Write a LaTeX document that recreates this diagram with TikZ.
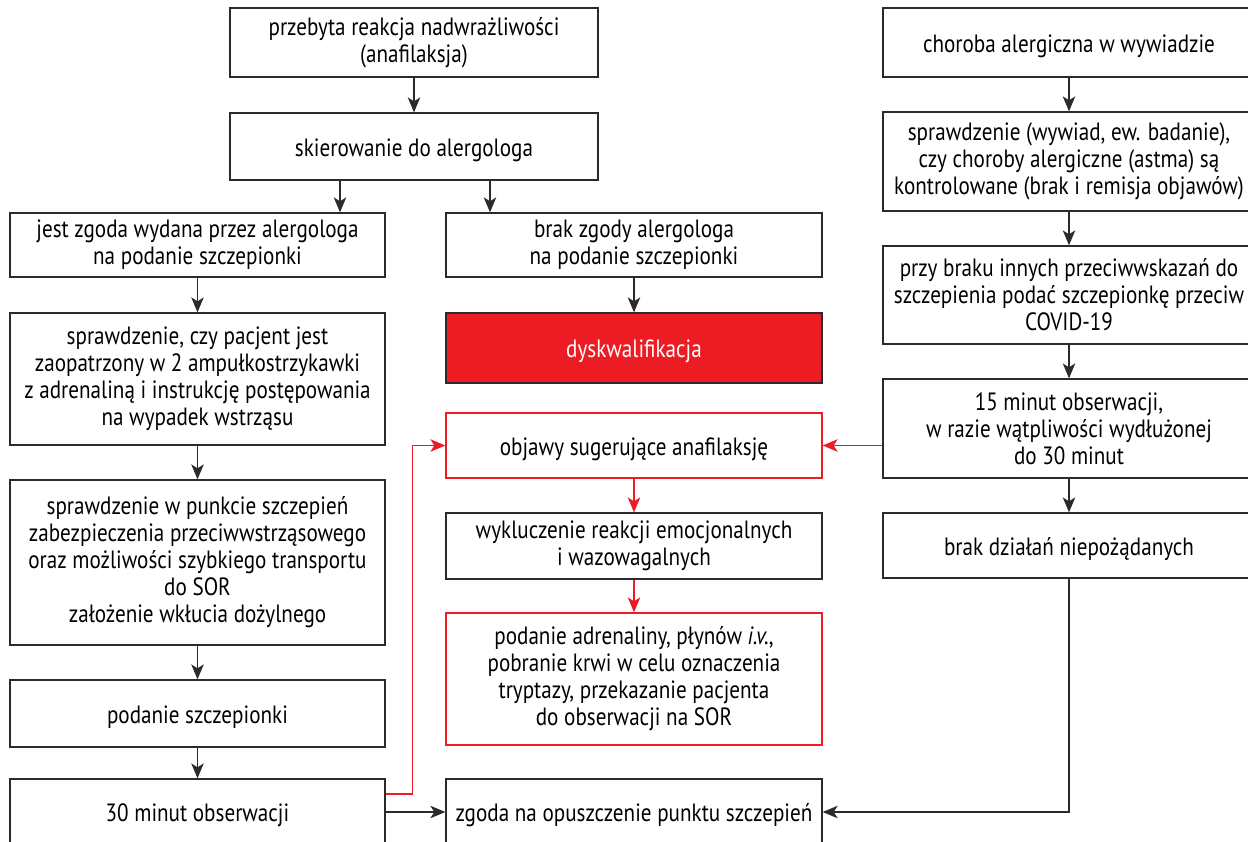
\documentclass[tikz,border=0pt]{standalone}
\usepackage{fontspec}
\setmainfont{PT Sans}[FakeStretch=0.845]
\usetikzlibrary{arrows.meta}
\definecolor{myred}{HTML}{ED1C24}
\definecolor{lin}{HTML}{2B2B2B}
\begin{document}
\begin{tikzpicture}[x=1pt,y=-1pt,
  box/.style={draw=lin,line width=1.3pt,fill=white,align=center,inner sep=0pt,
    font=\fontsize{25}{27}\selectfont,text=black,
    execute at begin node={\rule{0pt}{25pt}}},
  redbox/.style={box,draw=myred},
  fillbox/.style={box,draw=lin,fill=myred,text=white},
  arr/.style={draw=lin,line width=1.3pt,-{Stealth[length=15pt,width=12.5pt,inset=4pt]}},
  rarr/.style={arr,draw=myred}]
\useasboundingbox (0,0) rectangle (1248,841);
\clip (0,0) rectangle (1248,841);
% left/middle top
\node[box,minimum width=368pt,minimum height=69pt] (A) at (414,42.5) {przebyta reakcja nadwrażliwości\\(anafilaksja)};
\node[box,minimum width=368pt,minimum height=67pt] (B) at (414,146.5) {skierowanie do alergologa};
\node[box,minimum width=375pt,minimum height=64pt] (C) at (197.5,245) {jest zgoda wydana przez alergologa\\na podanie szczepionki};
\node[box,minimum width=376pt,minimum height=64pt] (D) at (634,245) {brak zgody alergologa\\na podanie szczepionki};
\node[fillbox,minimum width=376pt,minimum height=70pt] (E) at (634,348) {dyskwalifikacja};
\node[box,minimum width=375pt,minimum height=132pt] (F) at (197.5,379) {sprawdzenie, czy pacjent jest\\zaopatrzony w 2 ampułkostrzykawki\\z adrenaliną i instrukcję postępowania\\na wypadek wstrząsu};
\node[box,minimum width=375pt,minimum height=165pt] (G) at (197.5,562.5) {sprawdzenie w punkcie szczepień\\zabezpieczenia przeciwwstrząsowego\\oraz możliwości szybkiego transportu\\do SOR\\założenie wkłucia dożylnego};
\node[box,minimum width=375pt,minimum height=67pt] (H) at (197.5,713.5) {podanie szczepionki};
\node[box,minimum width=375pt,minimum height=66pt] (I) at (197.5,812) {30 minut obserwacji};
\node[redbox,minimum width=376pt,minimum height=65pt] (J) at (634,445.5) {objawy sugerujące anafilaksję};
\node[box,minimum width=376pt,minimum height=66pt] (K) at (634,546) {wykluczenie reakcji emocjonalnych\\i wazowagalnych};
\node[redbox,minimum width=376pt,minimum height=132pt] (L) at (634,679) {podanie adrenaliny, płynów \textit{i.v.},\\pobranie krwi w celu oznaczenia\\tryptazy, przekazanie pacjenta\\do obserwacji na SOR};
\node[box,minimum width=376pt,minimum height=66pt] (M) at (634,812) {zgoda na opuszczenie punktu szczepień};
% right column
\node[box,minimum width=372pt,minimum height=69pt] (N) at (1069,42.5) {choroba alergiczna w wywiadzie};
\node[box,minimum width=372pt,minimum height=99pt] (O) at (1069,161.5) {sprawdzenie (wywiad, ew. badanie),\\czy choroby alergiczne (astma) są\\kontrolowane (brak i remisja objawów)};
\node[box,minimum width=372pt,minimum height=98pt] (P) at (1069,295) {przy braku innych przeciwwskazań do\\szczepienia podać szczepionkę przeciw\\COVID-19};
\node[box,minimum width=372pt,minimum height=99pt] (Q) at (1069,428.5) {15 minut obserwacji,\\w razie wątpliwości wydłużonej\\do 30 minut};
\node[box,minimum width=372pt,minimum height=65pt] (R) at (1069,545.5) {brak działań niepożądanych};
% connectors
\draw[arr] (A) -- (B);
\draw[arr] ([xshift=-74pt]B.south) -- ([xshift=-74pt]B.south |- C.north);
\draw[arr] ([xshift=76pt]B.south) -- ([xshift=76pt]B.south |- D.north);
\draw[arr] (C) -- (F);
\draw[arr] (F) -- (G);
\draw[arr] (G) -- (H);
\draw[arr] (H) -- (I);
\draw[arr] (D) -- (E);
\draw[rarr] (J) -- (K);
\draw[rarr] (K) -- (L);
\draw[arr] (N) -- (O);
\draw[arr] (O) -- (P);
\draw[arr] (P) -- (Q);
\draw[arr] (Q) -- (R);
\draw[rarr] (Q.west |- J.east) -- (J.east);
\draw[rarr] ([yshift=18pt]I.east) -- ++(27pt,0) |- (J.west);
\draw[arr] (I.east) -- (M.west);
\draw[arr] (R.south) |- (M.east);
\end{tikzpicture}
\end{document}
